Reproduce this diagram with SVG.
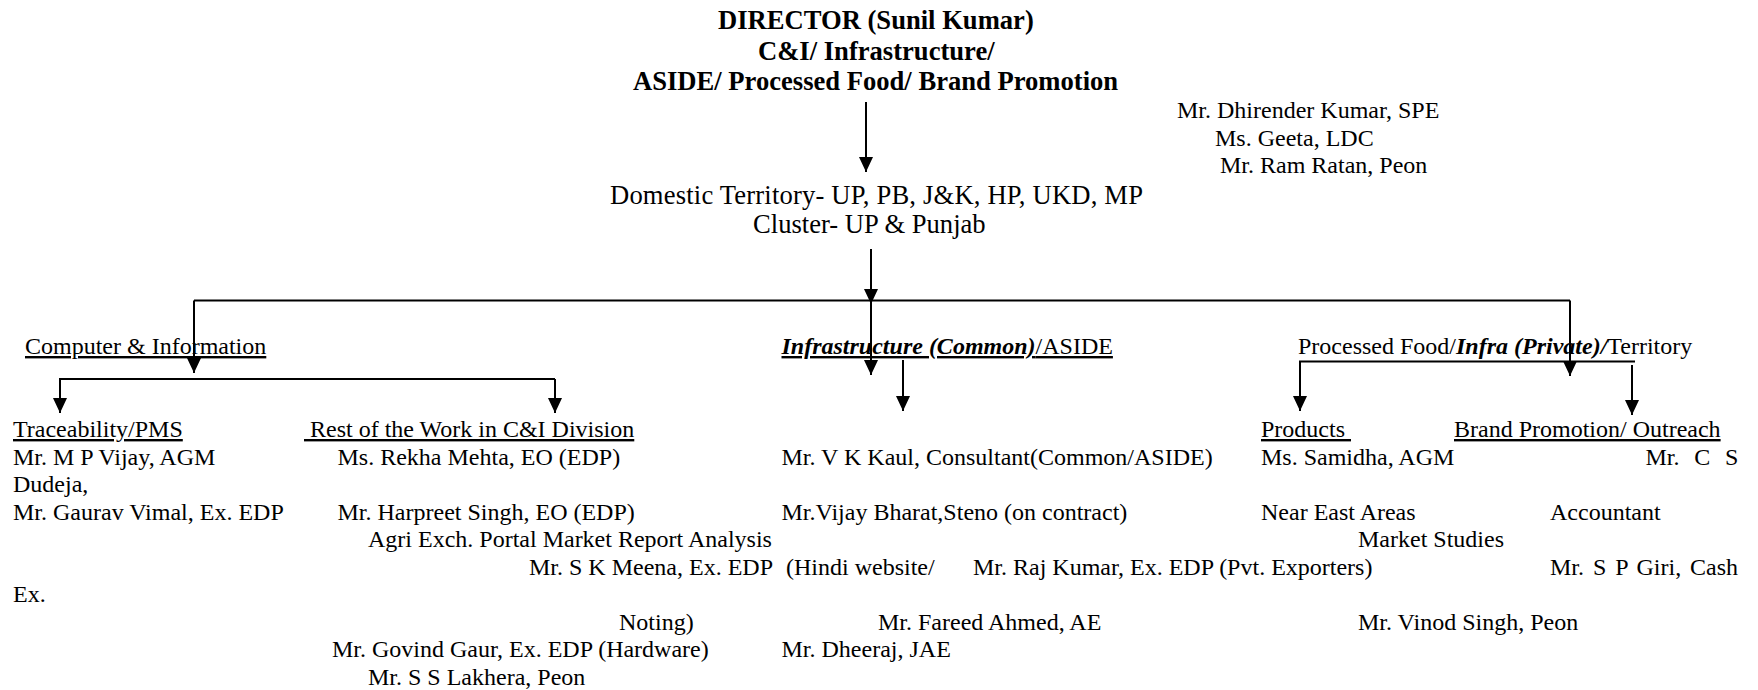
<svg xmlns="http://www.w3.org/2000/svg" width="1758" height="690" viewBox="0 0 1758 690">
<style>
text{font-family:"Liberation Serif","Times New Roman",serif;fill:#000}
.t{font-size:26.6px}
.b{font-weight:bold}
.s{font-size:24px}
.u{text-decoration:underline}
.bi{font-weight:bold;font-style:italic}
.c{fill:none;stroke:#000;stroke-width:2}
</style>
<defs>
<marker id="ah" markerUnits="userSpaceOnUse" markerWidth="15" markerHeight="14" refX="15" refY="7" orient="auto" viewBox="0 0 15 14">
<path d="M0,0 L15,7 L0,14 z" fill="#000"/>
</marker>
</defs>
<rect width="1758" height="690" fill="#fff"/>
<g id="connectors">
<path class="c" d="M866,102 V172" marker-end="url(#ah)"/>
<path class="c" d="M871,249 V304" marker-end="url(#ah)"/>
<path class="c" d="M871,300.5 V375" marker-end="url(#ah)"/>
<path class="c" d="M194,300.5 H1570"/>
<path class="c" d="M194,300.5 V373" marker-end="url(#ah)"/>
<path class="c" d="M1570,300.5 V376" marker-end="url(#ah)"/>
<path class="c" d="M903,360 V411" marker-end="url(#ah)"/>
<path class="c" d="M555,379 H60 V413" marker-end="url(#ah)"/>
<path class="c" d="M555,379 V413" marker-end="url(#ah)"/>
<path class="c" d="M1635,361.5 H1300 V411" marker-end="url(#ah)"/>
<path class="c" d="M1632,365 V415" marker-end="url(#ah)"/>
</g>
<g id="director">
<text class="t b" x="718" y="29">DIRECTOR (Sunil Kumar)</text>
<text class="t b" x="758" y="60">C&amp;I/ Infrastructure/</text>
<text class="t b" x="633" y="90">ASIDE/ Processed Food/ Brand Promotion</text>
</g>
<g id="office-staff">
<text class="s" x="1177" y="118">Mr. Dhirender Kumar, SPE</text>
<text class="s" x="1215" y="145.5">Ms. Geeta, LDC</text>
<text class="s" x="1220" y="173">Mr. Ram Ratan, Peon</text>
</g>
<g id="domestic">
<text class="t" x="610" y="203.5" textLength="533" lengthAdjust="spacing">Domestic Territory- UP, PB, J&amp;K, HP, UKD, MP</text>
<text class="t" x="753" y="233">Cluster- UP &amp; Punjab</text>
</g>
<g id="computer-information">
<text class="s u" x="25" y="354">Computer &amp; Information</text>
</g>
<g id="infrastructure">
<text class="s u" x="781.5" y="354"><tspan class="bi">Infrastructure (Common)</tspan>/ASIDE</text>
</g>
<g id="processed-food">
<text class="s" x="1298" y="354">Processed Food/<tspan class="bi">Infra (Private)/</tspan>Territory</text>
</g>
<g id="traceability">
<text class="s u" x="13" y="437">Traceability/PMS</text>
<text class="s" x="13" y="464.5">Mr. M P Vijay, AGM</text>
<text class="s" x="13" y="492">Dudeja,</text>
<text class="s" x="13" y="519.5">Mr. Gaurav Vimal, Ex. EDP</text>
<text class="s" x="13" y="602">Ex.</text>
</g>
<g id="rest-of-work">
<text class="s u" x="304" y="437" xml:space="preserve"> Rest of the Work in C&amp;I Division</text>
<text class="s" x="337.5" y="464.5">Ms. Rekha Mehta, EO (EDP)</text>
<text class="s" x="337.5" y="519.5">Mr. Harpreet Singh, EO (EDP)</text>
<text class="s" x="368" y="547">Agri Exch. Portal Market Report Analysis</text>
<text class="s" x="529" y="574.5">Mr. S K Meena, Ex. EDP</text>
<text class="s" x="786" y="574.5">(Hindi website/</text>
<text class="s" x="619" y="629.5">Noting)</text>
<text class="s" x="332" y="657">Mr. Govind Gaur, Ex. EDP (Hardware)</text>
<text class="s" x="368" y="684.5">Mr. S S Lakhera, Peon</text>
</g>
<g id="infrastructure-staff">
<text class="s" x="781.5" y="464.5">Mr. V K Kaul, Consultant(Common/ASIDE)</text>
<text class="s" x="781.5" y="519.5">Mr.Vijay Bharat,Steno (on contract)</text>
<text class="s" x="973" y="574.5">Mr. Raj Kumar, Ex. EDP (Pvt. Exporters)</text>
<text class="s" x="878" y="629.5">Mr. Fareed Ahmed, AE</text>
<text class="s" x="781.5" y="657">Mr. Dheeraj, JAE</text>
</g>
<g id="products">
<text class="s u" x="1261" y="437" xml:space="preserve">Products </text>
<text class="s" x="1261" y="464.5">Ms. Samidha, AGM</text>
<text class="s" x="1261" y="519.5">Near East Areas</text>
<text class="s" x="1358" y="547">Market Studies</text>
<text class="s" x="1358" y="629.5">Mr. Vinod Singh, Peon</text>
</g>
<g id="brand-promotion">
<text class="s u" x="1454" y="437">Brand Promotion/ Outreach</text>
<text class="s" x="1645.5" y="464.5" word-spacing="8.8">Mr. C S</text>
<text class="s" x="1550" y="519.5">Accountant</text>
<text class="s" x="1550" y="574.5" word-spacing="2.9">Mr. S P Giri, Cash</text>
</g>
</svg>
